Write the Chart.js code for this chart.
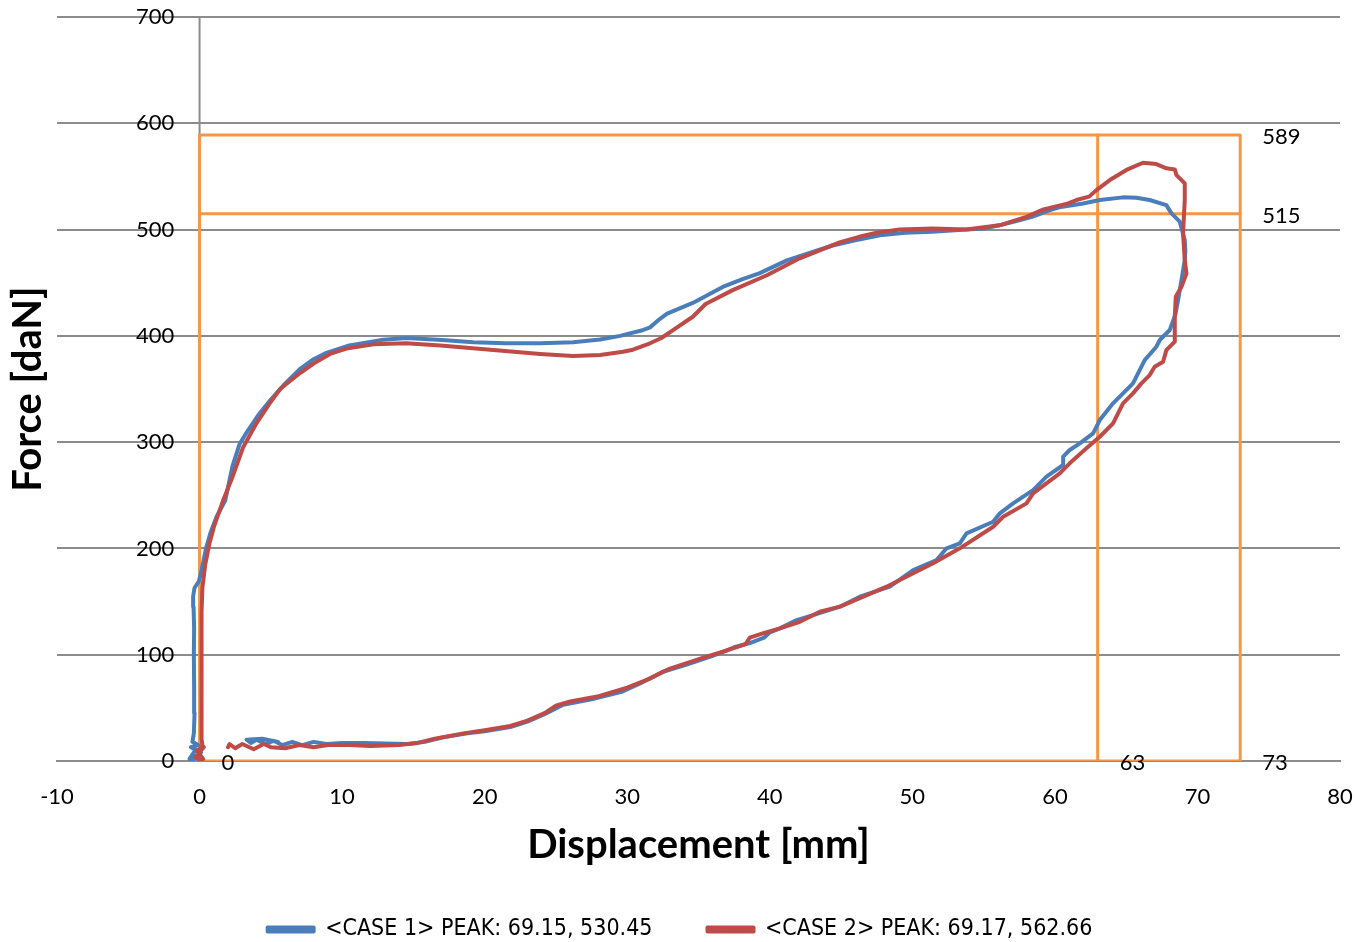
<!DOCTYPE html>
<html>
<head>
<meta charset="utf-8">
<script src="https://cdn.jsdelivr.net/npm/chart.js@4.4.1/dist/chart.umd.min.js"></script>
<style>
html,body{margin:0;padding:0;background:#fff;}
#wrap{width:1360px;height:942px;}
</style>
</head>
<body>
<div id="wrap"><canvas id="c" width="1360" height="942"></canvas></div>
<script>
// ---------- DATA ----------
const seriesNames = ['<CASE 1> PEAK: 69.15, 530.45', '<CASE 2> PEAK: 69.17, 562.66'];

const case1X = [-0.5,-0.2,-0.7,-0.3,0.1,-0.6,-0.1,-0.5,-0.4,-0.35,-0.38,-0.4,-0.38,-0.42,-0.45,-0.35,-0.05,0.15,0.3,0.45,0.75,1.2,1.8,2.3,2.8,3.3,4.1,5.0,6.0,7.05,8.0,8.9,10.5,12.7,14.5,17.0,19.2,21.5,23.9,26.2,28.1,29.5,31.0,31.6,32.3,32.8,34.6,36.7,38.0,39.3,41.2,42.8,44.4,46.0,47.9,49.5,51.4,53.8,55.0,56.1,57.3,58.4,59.6,60.3,61.98,63.15,64.78,65.72,66.65,67.82,68.18,68.76,69.11,69.15,69.11,68.88,68.64,68.45,68.06,67.36,67.12,66.30,65.48,64.08,63.15,62.68,61.75,61.04,60.58,60.58,59.41,58.47,57.07,56.14,55.67,53.80,53.33,52.40,51.70,50.06,48.42,46.32,44.92,43.04,41.88,40.71,40.0,39.6,38.6,37.5,36.0,34.0,32.5,30.9,29.6,27.5,25.5,24.2,23.0,21.8,20.0,18.8,17.0,15.8,14.6,13.0,11.5,10.0,8.9,8.0,7.2,6.5,5.8,5.2,4.6,4.0,3.6,3.3,4.4,5.5];
const case1Y = [0,5,2,10,8,13,15,18,26,45,70,100,125,145,155,163,169,180,190,200,214,230,245,277,298,309,325,340,355,369,378,384,391,396,398,396,394,393,393,394,396.5,400,405,408,416,421,431,446,453,459,471,478,485,490,495,497,498,500,501,504,508,512,518,521,524.6,527.8,530.3,530.0,527.8,523.0,515.2,507.4,490.1,480,471.3,452.5,433.7,420,405.5,396.1,389.8,377.2,355.3,336.5,320.8,308.3,298.9,292.6,286.3,278.5,267.5,254.9,242.4,233.0,225.1,214.2,204.8,200.1,189.1,179.7,164.0,154.6,145.2,137.3,132.6,124.8,121,116,111,107,99,90,84,73,65,58,53,44,37,32,28,26,22,18,16,16.5,17,17,16,18,15,18,15,19,16,20,17,20,21,18];

const case2X = [0.1,-0.3,0.25,-0.2,0.3,-0.1,0.2,0.15,0.15,0.12,0.15,0.2,0.4,0.7,1.0,1.65,2.3,3.05,4.0,5.0,5.65,7.05,8.0,9.15,10.3,12.2,14.5,16.9,20.4,23.9,26.2,28.1,29.7,30.4,31.6,32.4,33.5,34.6,35.5,37.4,39.8,42.1,44.9,46.5,47.5,49.1,51.4,53.8,56.1,58.0,59.2,60.8,61.51,62.4,62.92,63.85,65.02,66.18,67.12,67.82,68.41,68.53,69.11,69.11,68.99,69.11,69.23,68.88,68.48,68.41,68.41,67.82,67.59,67.00,66.65,66.07,65.48,64.78,64.08,63.15,62.21,61.04,60.34,58.47,58.01,56.37,55.67,53.33,51.46,50.06,48.19,46.32,44.92,43.51,42.11,40.71,39.5,38.6,38.3,37.0,35.5,33.0,31.5,30.0,28.0,26.0,25.0,24.2,23.0,21.8,20.0,18.5,16.5,15.3,14.0,12.0,10.5,9.0,8.0,7.0,6.0,5.0,4.5,3.8,3.0,2.5,2.1,2.0];
const case2Y = [0,4,2,10,13,7,15,20,60,100,140,163,185,205,220,245,267,295,318,338,350,365,374,383,388,392,393,391,387,383,381,382,385,387,393,398,408,418,430,443,457,473,488,494,497,500,501,500,504,512,519,524,527.8,531,537.2,546.6,556.1,562.9,561.6,557.6,556.6,551.3,543.5,527.8,496.4,471.3,458.8,446.2,436.8,418.0,394.5,386.6,375.6,370.9,363.1,355.3,345.9,336.5,317.7,305.1,294.2,280.1,270.6,251.8,242.4,229.8,220.4,200.1,186.0,176.6,164.0,153.1,145.2,140.5,131.0,124.8,120,116,110,104,98,87,77,69,61,56,52,45,38,33,29,26,21,17,15,14,15,15,13,15,12,13,16,11,16,12,16,13];

// reference (orange) lines
const refXs = [0, 63, 73];       // vertical guide positions
const refYs = [0, 515, 589];     // horizontal guide levels
const refLabelX = [0, 63, 73, 73, 73];
const refLabelY = [0, 0, 0, 515, 589];
const refLabelText = ['0', '63', '73', '515', '589'];

const xTickValues = [-10, 0, 10, 20, 30, 40, 50, 60, 70, 80];
const yTickValues = [0, 100, 200, 300, 400, 500, 600, 700];
const yAxisAtX = 0;

// ---------- BUILD ----------
const toPts = (xs, ys) => xs.map((x, i) => ({x: x, y: ys[i]}));
const boxPts = [
  {x: refXs[0], y: refYs[0]}, {x: refXs[0], y: refYs[2]}, {x: refXs[2], y: refYs[2]},
  {x: refXs[2], y: refYs[0]}, {x: refXs[0], y: refYs[0]}
];
const vLinePts = [{x: refXs[1], y: refYs[0]}, {x: refXs[1], y: refYs[2]}];
const hLinePts = [{x: refXs[0], y: refYs[1]}, {x: refXs[2], y: refYs[1]}];
const yAxisPts = [{x: yAxisAtX, y: yTickValues[0]}, {x: yAxisAtX, y: yTickValues[yTickValues.length - 1]}];

const ORANGE = '#F79646';
const BLUE = '#4A7EBB';
const RED = '#BE4B48';
const GRID = '#8C8C8C';

const refLabelPlugin = {
  id: 'refLabels',
  afterDatasetsDraw(chart) {
    const {ctx, scales} = chart;
    ctx.save();
    ctx.font = '22px Lato';
    ctx.fillStyle = '#000';
    ctx.textAlign = 'left';
    ctx.textBaseline = 'middle';
    refLabelX.forEach((vx, i) => {
      ctx.fillText(refLabelText[i], scales.x.getPixelForValue(vx) + 22, scales.y.getPixelForValue(refLabelY[i]) + 2);
    });
    ctx.restore();
  }
};

const lineDs = (label, data, color, width, order) => ({
  label, data, showLine: true, borderColor: color, backgroundColor: color,
  borderWidth: width, pointRadius: 0, pointHoverRadius: 0, tension: 0,
  borderJoinStyle: 'round', borderCapStyle: 'round', order
});

new Chart(document.getElementById('c'), {
  type: 'scatter',
  data: {
    datasets: [
      lineDs(seriesNames[0], toPts(case1X, case1Y), BLUE, 4, 2),
      lineDs(seriesNames[1], toPts(case2X, case2Y), RED, 4, 1),
      lineDs('box', boxPts, ORANGE, 3, 5),
      lineDs('v63', vLinePts, ORANGE, 3, 4),
      lineDs('h515', hLinePts, ORANGE, 3, 3),
      Object.assign(lineDs('yAxis', yAxisPts, GRID, 2, 9), { borderCapStyle: 'butt' })
    ]
  },
  options: {
    responsive: false,
    devicePixelRatio: 1,
    animation: false,
    events: [],
    layout: { padding: { left: 0, right: 0, top: 17, bottom: -9 } },
    plugins: {
      tooltip: { enabled: false },
      title: {
        display: true, text: 'Force [daN]', position: 'left', fullSize: false,
        color: '#000', font: { family: 'Lato', weight: 'bold', size: 40 },
        padding: { top: 4, bottom: 5 }
      },
      legend: {
        display: true, position: 'bottom',
        labels: {
          boxWidth: 46, boxHeight: 4, padding: 55, color: '#000',
          font: { family: "'DejaVu Sans Condensed', Lato", size: 23 },
          filter: (item) => item.datasetIndex < 2,
          sort: (a, b) => a.datasetIndex - b.datasetIndex
        }
      }
    },
    scales: {
      x: {
        type: 'linear', position: 'bottom',
        min: xTickValues[0], max: xTickValues[xTickValues.length - 1],
        afterBuildTicks: (s) => { s.ticks = xTickValues.map(v => ({value: v})); },
        afterFit: (s) => { s.height = 102; s.paddingRight = 20; },
        ticks: { color: '#000', font: { family: 'Lato', size: 22 }, padding: 0 },
        grid: { display: false, drawTicks: true, tickLength: 23 },
        border: { display: true, color: GRID, width: 2 },
        title: {
          display: true, text: 'Displacement [mm]', color: '#000',
          font: { family: 'Lato', weight: 'bold', size: 40 },
          padding: { top: 0, bottom: -6 }
        }
      },
      y: {
        type: 'linear', position: 'left',
        min: yTickValues[0], max: yTickValues[yTickValues.length - 1],
        afterBuildTicks: (s) => { s.ticks = yTickValues.map(v => ({value: v})); },
        afterFit: (s) => { s.width = 0; s.paddingTop = 0; s.paddingBottom = 0; },
        ticks: { color: '#000', font: { family: 'Lato', size: 22 }, mirror: true, crossAlign: 'far', padding: 79 },
        grid: { color: GRID, lineWidth: 2, drawTicks: false },
        border: { display: false }
      }
    }
  },
  plugins: [refLabelPlugin]
});
</script>
</body>
</html>
